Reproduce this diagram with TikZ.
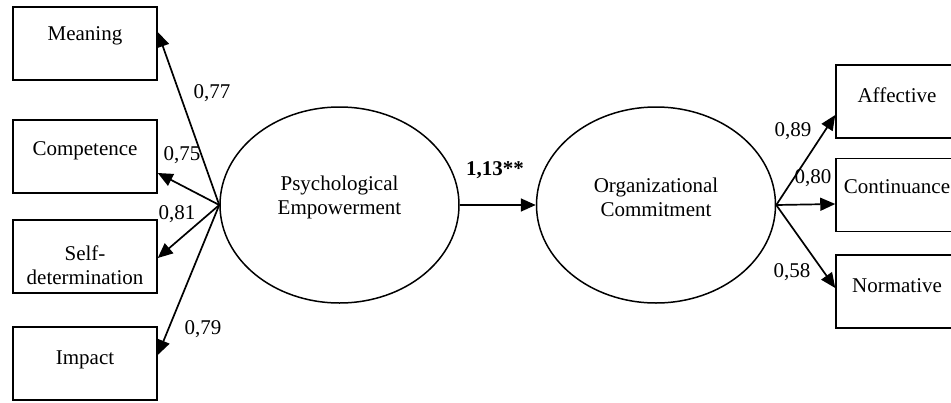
\documentclass[tikz,border=0pt]{standalone}
\usepackage{fontspec}
\setmainfont{Liberation Serif}
\usetikzlibrary{shapes.geometric,arrows.meta}

\begin{document}
\begin{tikzpicture}[x=1pt,y=-1pt,
font=\fontsize{21}{24}\selectfont,
boxnode/.style={rectangle, draw=black, line width=1.5pt, minimum width=144pt, minimum height=73pt, inner sep=0pt},
rboxnode/.style={boxnode, minimum width=122pt},
latent/.style={ellipse, draw=black, line width=1.5pt, minimum width=239pt, minimum height=196pt, inner sep=0pt},
path/.style={line width=1.7pt, -{Triangle[length=15pt,width=13pt]}},
coef/.style={inner sep=0pt}
]
    \useasboundingbox (0,0) rectangle (951,402);

    % indicators of psychological empowerment
    \node [boxnode, label={[yshift=8pt]center:Meaning}] (mean) at (85,43.5) {};
    \node [boxnode, label={[yshift=6pt]center:Competence}] (comp) at (85,156.5) {};
    \node [boxnode, label={[align=center, yshift=-9pt, text depth=0pt]center:Self-\\determination}] (self) at (85,256.5) {};
    \node [boxnode, label={[yshift=4pt]center:Impact}] (imp) at (85,363.5) {};

    % the two latent variables
    \node [latent, label={[align=center, yshift=8pt]center:Psychological\\Empowerment}] (pe) at (339.5,205) {};
    \node [latent, label={[align=center, yshift=8pt]center:Organizational\\Commitment}] (oc) at (656,205) {};

    % indicators of organizational commitment
    \node [rboxnode, label={[yshift=6pt]center:Affective}] (aff) at (897,101.5) {};
    \node [rboxnode, label={[yshift=8pt]center:Continuance}] (cont) at (897,195) {};
    \node [rboxnode, label={[yshift=6pt]center:Normative}] (norm) at (897,291.5) {};

    \draw [path] (pe.west) -- ([yshift=11.5pt]mean.east);
    \draw [path] (pe.west) -- ([yshift=-16.5pt]comp.east);
    \draw [path] (pe.west) -- ([yshift=-1.5pt]self.east);
    \draw [path] (pe.west) -- ([yshift=8.5pt]imp.east);
    \draw [path] (pe.east) -- (oc.west);
    \draw [path] (oc.east) -- ([yshift=-13.5pt]aff.west);
    \draw [path] (oc.east) -- ([yshift=-9pt]cont.west);
    \draw [path] (oc.east) -- ([yshift=3.5pt]norm.west);

    % loadings
    \node [coef] (c77) at (212,93) {0,77};
    \node [coef] (c75) at (182,155) {0,75};
    \node [coef] (c81) at (177,214) {0,81};
    \node [coef] (c79) at (203,329) {0,79};
    \node [coef] (c113) at (495,170) {\textbf{1,13**}};
    \node [coef] (c89) at (793,131) {0,89};
    \node [coef] (c80) at (813,178) {0,80};
    \node [coef] (c58) at (792,272) {0,58};
\end{tikzpicture}
\end{document}
